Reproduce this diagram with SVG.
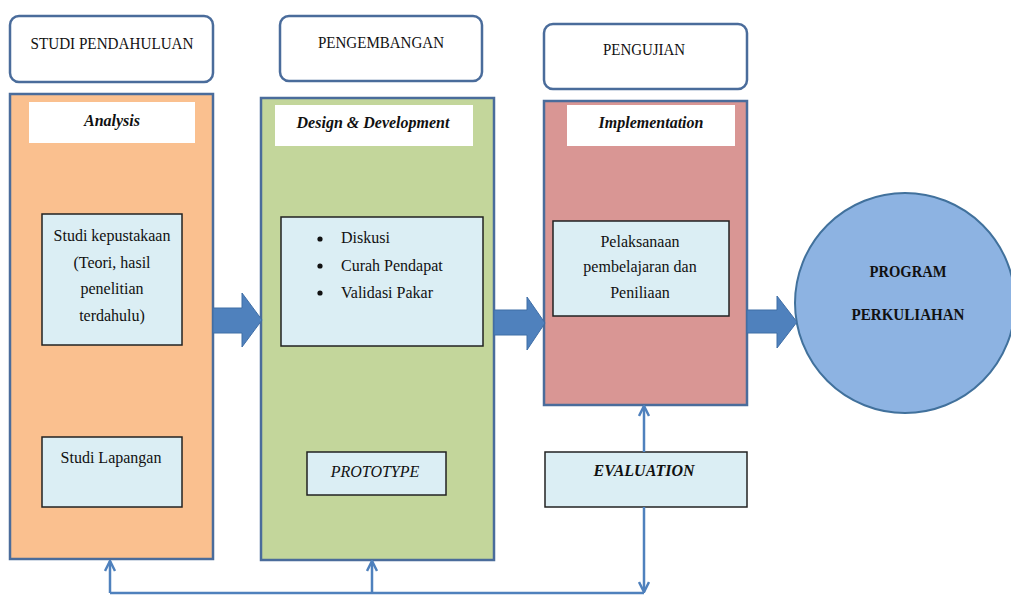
<svg xmlns="http://www.w3.org/2000/svg" width="1011" height="597" viewBox="0 0 1011 597">
<style>
.hdr{fill:#fff;stroke:#4a6c9b;stroke-width:2.5}
.panel{stroke:#4a6c9b;stroke-width:2.5}
.wbox{fill:#fff}
.ibox{fill:#dbeef4;stroke:#222;stroke-width:1.5}
.t{font-family:"Liberation Serif",serif;font-size:16px;fill:#111;text-anchor:middle}
.bi{font-weight:bold;font-style:italic}
.blk{fill:#4f81bd;stroke:#3f6ea6;stroke-width:1}
.conn{fill:none;stroke:#4f81bd;stroke-width:2.5}
</style>
<defs>
<marker id="chev" viewBox="0 0 12 12" refX="11" refY="6" markerWidth="12" markerHeight="12" markerUnits="userSpaceOnUse" orient="auto">
<path d="M1,1 L11,6 L1,11" fill="none" stroke="#4f81bd" stroke-width="2.5"/>
</marker>
</defs>

<g id="hdr-studi">
<rect class="hdr" x="10" y="16" width="203" height="66" rx="9"/>
<text class="t" x="112" y="49" font-size="17" style="font-size:17px" textLength="163" lengthAdjust="spacingAndGlyphs">STUDI PENDAHULUAN</text>
</g>
<g id="hdr-pengembangan">
<rect class="hdr" x="280" y="16" width="202" height="65" rx="9"/>
<text class="t" x="381" y="48" style="font-size:17px" textLength="126" lengthAdjust="spacingAndGlyphs">PENGEMBANGAN</text>
</g>
<g id="hdr-pengujian">
<rect class="hdr" x="544" y="24" width="203" height="65" rx="9"/>
<text class="t" x="644" y="55" style="font-size:17px" textLength="82" lengthAdjust="spacingAndGlyphs">PENGUJIAN</text>
</g>

<g id="panel-analysis">
<rect class="panel" x="10" y="94" width="203" height="465" fill="#fac08f"/>
<rect class="wbox" x="29" y="102" width="166" height="41"/>
<text class="t bi" x="112" y="126">Analysis</text>
</g>
<g id="panel-design">
<rect class="panel" x="261" y="98" width="233" height="462" fill="#c3d69b"/>
<rect class="wbox" x="275" y="105" width="198" height="41"/>
<text class="t bi" x="373" y="128">Design &amp; Development</text>
</g>
<g id="panel-implementation">
<rect class="panel" x="544" y="101" width="203" height="304" fill="#d99694"/>
<rect class="wbox" x="567" y="105" width="168" height="41"/>
<text class="t bi" x="651" y="128">Implementation</text>
</g>

<g id="box-kepustakaan">
<rect class="ibox" x="42" y="214" width="140" height="131"/>
<text class="t" x="112" y="241">Studi kepustakaan</text>
<text class="t" x="112" y="268">(Teori, hasil</text>
<text class="t" x="112" y="294">penelitian</text>
<text class="t" x="112" y="321">terdahulu)</text>
</g>
<g id="box-lapangan">
<rect class="ibox" x="42" y="437" width="140" height="70"/>
<text class="t" x="111" y="463">Studi Lapangan</text>
</g>
<g id="box-diskusi">
<rect class="ibox" x="281" y="217" width="202" height="129"/>
<circle cx="320" cy="239" r="2.6" fill="#111"/>
<circle cx="320" cy="266" r="2.6" fill="#111"/>
<circle cx="320" cy="293" r="2.6" fill="#111"/>
<text class="t" x="341" y="243" style="text-anchor:start">Diskusi</text>
<text class="t" x="341" y="271" style="text-anchor:start">Curah Pendapat</text>
<text class="t" x="341" y="298" style="text-anchor:start">Validasi Pakar</text>
</g>
<g id="box-prototype">
<rect class="ibox" x="307" y="452" width="139" height="43"/>
<text class="t" x="375" y="477" font-style="italic">PROTOTYPE</text>
</g>
<g id="box-pelaksanaan">
<rect class="ibox" x="553" y="221" width="176" height="95"/>
<text class="t" x="640" y="247">Pelaksanaan</text>
<text class="t" x="640" y="272">pembelajaran dan</text>
<text class="t" x="640" y="298">Peniliaan</text>
</g>
<g id="box-evaluation">
<rect class="ibox" x="545" y="452" width="202" height="55"/>
<text class="t bi" x="644" y="476">EVALUATION</text>
</g>
<g id="node-program">
<circle cx="905" cy="303" r="110" fill="#8db3e2" stroke="#41719c" stroke-width="2"/>
<text class="t" x="908" y="277" font-weight="bold" textLength="77" lengthAdjust="spacingAndGlyphs">PROGRAM</text>
<text class="t" x="908" y="320" font-weight="bold" textLength="113" lengthAdjust="spacingAndGlyphs">PERKULIAHAN</text>
</g>

<g id="connectors">
<path class="blk" d="M213,308 L242,308 L242,293 L262,320 L242,347 L242,333 L213,333 Z"/>
<path class="blk" d="M494,310 L527,310 L527,297 L545,323 L527,350 L527,335 L494,335 Z"/>
<path class="blk" d="M747,310 L777,310 L777,296 L797,322 L777,348 L777,333 L747,333 Z"/>
<path class="conn" d="M644,452 L644,406" marker-end="url(#chev)"/>
<path class="conn" d="M644,507 L644,592" marker-end="url(#chev)"/>
<path class="conn" d="M110,593 L644,593"/>
<path class="conn" d="M110,593 L110,561" marker-end="url(#chev)"/>
<path class="conn" d="M372,593 L372,561" marker-end="url(#chev)"/>
</g>
</svg>
